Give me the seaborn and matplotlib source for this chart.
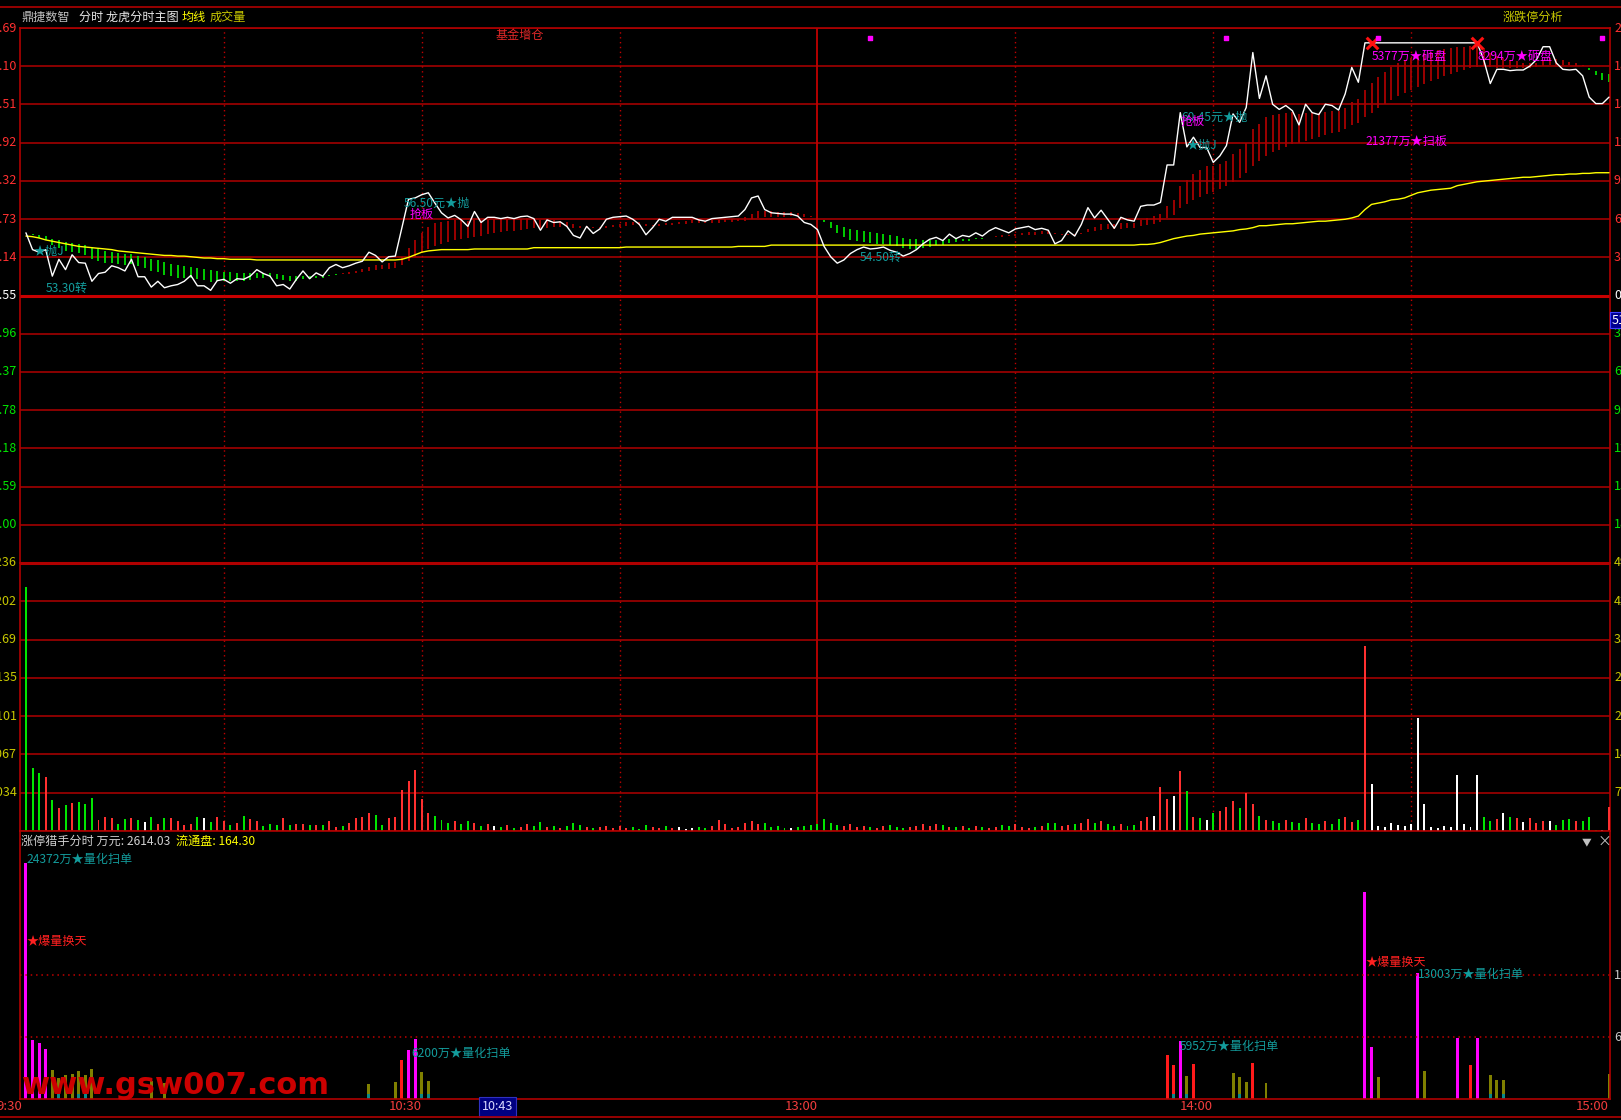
import matplotlib
matplotlib.use('Agg')
import matplotlib.pyplot as plt
import matplotlib.transforms as mtransforms
from matplotlib.lines import Line2D
import seaborn as sns
import pandas as pd
import numpy as np

sns.set_style('dark', {'axes.facecolor': 'black', 'figure.facecolor': 'black'})
plt.rcParams['font.family'] = ['Noto Sans CJK SC', 'DejaVu Sans']

# ---- data ----
pre_close = 19.55
price_step = 0.5914          # price per grid row
vol_top = 49236
flow_top = 27676
flow_marks = [12800, 6400]

price = [
    20.52, 20.26, 20.22, 20.26, 19.85, 20.11, 19.95, 20.18, 20.06, 20.05,
    19.77, 19.89, 19.91, 20.01, 19.98, 19.93, 20.11, 19.84, 19.84, 19.68,
    19.77, 19.67, 19.70, 19.72, 19.77, 19.86, 19.70, 19.70, 19.63, 19.78,
    19.80, 19.74, 19.81, 19.80, 19.85, 19.95, 19.89, 19.85, 19.70, 19.72,
    19.65, 19.80, 19.93, 19.81, 19.90, 19.85, 19.98, 20.03, 19.98, 20.01,
    20.05, 20.08, 20.22, 20.17, 20.07, 20.15, 20.16, 20.60, 21.04, 21.06,
    21.11, 21.14, 20.98, 20.83, 20.75, 20.79, 20.72, 20.62, 20.85, 20.68,
    20.76, 20.76, 20.74, 20.76, 20.74, 20.77, 20.78, 20.74, 20.56, 20.72,
    20.68, 20.69, 20.62, 20.48, 20.44, 20.62, 20.51, 20.58, 20.73, 20.76,
    20.77, 20.78, 20.73, 20.65, 20.49, 20.60, 20.73, 20.70, 20.76, 20.76,
    20.76, 20.76, 20.72, 20.70, 20.74, 20.75, 20.76, 20.77, 20.78, 20.88,
    21.06, 21.09, 20.88, 20.83, 20.82, 20.81, 20.81, 20.78, 20.68, 20.65,
    20.57, 20.31, 20.15, 20.05, 20.10, 20.20, 20.26, 20.30, 20.27, 20.28,
    20.30, 20.25, 20.22, 20.16, 20.20, 20.26, 20.35, 20.42, 20.45, 20.40,
    20.50, 20.43, 20.48, 20.46, 20.52, 20.47, 20.55, 20.60, 20.56, 20.52,
    20.58, 20.60, 20.62, 20.57, 20.59, 20.56, 20.35, 20.40, 20.55, 20.47,
    20.65, 20.91, 20.75, 20.87, 20.73, 20.59, 20.76, 20.72, 20.70, 20.93,
    20.95, 20.95, 20.99, 21.57, 21.57, 22.38, 21.85, 22.00, 21.84, 21.84,
    21.61, 21.71, 21.87, 22.36, 22.23, 22.46, 23.31, 22.60, 22.95, 22.51,
    22.43, 22.49, 22.41, 22.19, 22.51, 22.38, 22.35, 22.51, 22.49, 22.42,
    22.67, 23.08, 22.85, 23.46, 23.46, 23.46, 23.46, 23.46, 23.46, 23.46,
    23.46, 23.46, 23.46, 23.46, 23.46, 23.46, 23.46, 23.46, 23.46, 23.46,
    23.46, 23.20, 22.83, 23.05, 23.05, 23.03, 23.04, 23.04, 23.10, 23.20,
    23.40, 23.40, 23.15, 23.05, 23.04, 23.05, 22.95, 22.62, 22.52, 22.52, 22.62,
]

avg_price = [
    20.47, 20.46, 20.44, 20.41, 20.39, 20.37, 20.35, 20.33, 20.31, 20.30,
    20.29, 20.28, 20.27, 20.26, 20.24, 20.23, 20.22, 20.21, 20.20, 20.19,
    20.18, 20.17, 20.17, 20.16, 20.16, 20.15, 20.14, 20.13, 20.13, 20.12,
    20.12, 20.11, 20.11, 20.11, 20.11, 20.10, 20.10, 20.10, 20.10, 20.10,
    20.10, 20.10, 20.10, 20.10, 20.10, 20.10, 20.10, 20.10, 20.10, 20.10,
    20.10, 20.10, 20.10, 20.10, 20.10, 20.10, 20.10, 20.11, 20.14, 20.18,
    20.22, 20.24, 20.25, 20.26, 20.26, 20.26, 20.26, 20.26, 20.27, 20.27,
    20.27, 20.27, 20.27, 20.27, 20.27, 20.27, 20.27, 20.29, 20.29, 20.29,
    20.29, 20.29, 20.29, 20.29, 20.29, 20.29, 20.29, 20.29, 20.29, 20.29,
    20.29, 20.30, 20.30, 20.30, 20.30, 20.30, 20.30, 20.30, 20.30, 20.30,
    20.30, 20.30, 20.30, 20.30, 20.30, 20.30, 20.30, 20.30, 20.31, 20.31,
    20.31, 20.31, 20.31, 20.33, 20.33, 20.33, 20.33, 20.33, 20.33, 20.33,
    20.33, 20.33, 20.33, 20.33, 20.33, 20.33, 20.33, 20.33, 20.33, 20.33,
    20.33, 20.33, 20.33, 20.33, 20.33, 20.33, 20.33, 20.33, 20.33, 20.33,
    20.33, 20.33, 20.33, 20.33, 20.33, 20.33, 20.33, 20.33, 20.33, 20.33,
    20.33, 20.33, 20.33, 20.33, 20.33, 20.33, 20.33, 20.33, 20.33, 20.33,
    20.33, 20.33, 20.33, 20.33, 20.33, 20.33, 20.33, 20.33, 20.33, 20.34,
    20.34, 20.35, 20.37, 20.40, 20.43, 20.45, 20.47, 20.48, 20.50, 20.51,
    20.52, 20.53, 20.54, 20.55, 20.57, 20.58, 20.60, 20.63, 20.63, 20.64,
    20.65, 20.66, 20.66, 20.67, 20.68, 20.69, 20.70, 20.70, 20.71, 20.72,
    20.73, 20.75, 20.78, 20.88, 20.96, 20.98, 21.00, 21.03, 21.04, 21.06,
    21.10, 21.14, 21.16, 21.18, 21.19, 21.20, 21.21, 21.25, 21.27, 21.29,
    21.31, 21.32, 21.33, 21.34, 21.35, 21.36, 21.37, 21.38, 21.38, 21.39,
    21.40, 21.41, 21.42, 21.42, 21.43, 21.43, 21.44, 21.44, 21.45, 21.45, 21.45,
]

volume = [
    44800, 11500, 10700, 9900, 5700, 4200, 4800, 5100, 5400, 5000,
    6100, 2000, 2600, 2300, 1300, 2200, 2400, 2100, 1700, 2500,
    1300, 2300, 2400, 1800, 1100, 1300, 2600, 2300, 1600, 2500,
    1800, 1100, 1400, 2700, 2200, 1800, 900, 1300, 1100, 2400,
    1100, 1200, 1300, 1100, 1100, 1100, 1800, 800, 900, 1400,
    2300, 2600, 3300, 2900, 1100, 2300, 2600, 7600, 9100, 11200,
    5800, 3300, 2700, 2100, 1500, 1800, 1200, 1900, 1400, 1000,
    1300, 900, 700, 1100, 600, 800, 1200, 900, 1600, 700,
    1000, 600, 900, 1400, 1100, 800, 500, 700, 1000, 600,
    900, 500, 700, 400, 1100, 800, 600, 900, 500, 700,
    400, 600, 800, 500, 900, 2100, 1300, 600, 800, 1500,
    1900, 1200, 1400, 700, 900, 600, 500, 700, 900, 1100,
    1300, 2200, 1500, 1100, 900, 1300, 800, 1000, 700, 600,
    900, 1100, 700, 500, 800, 1000, 1200, 900, 1300, 1100,
    800, 700, 1000, 600, 900, 700, 500, 800, 1100, 900,
    1200, 700, 600, 800, 1000, 1400, 1500, 900, 1100, 1300,
    1500, 2200, 1400, 1900, 1300, 1000, 1200, 900, 1100, 1800,
    2500, 2800, 8000, 5800, 6500, 11000, 7400, 2600, 2300, 2100,
    3300, 3700, 4500, 5600, 4300, 7000, 5000, 2700, 2000, 1800,
    1500, 2100, 1700, 1400, 2300, 1500, 1200, 1900, 1300, 2200,
    2600, 1700, 2000, 34000, 8700, 1000, 700, 1500, 1100, 900,
    1200, 20700, 5000, 800, 600, 1000, 700, 10300, 1300, 800,
    10300, 2500, 1900, 2200, 3300, 2600, 2400, 1700, 2400, 1500,
    1800, 1800, 1100, 2000, 2200, 1800, 1800, 2600, 200, 100, 4500,
]

# lower indicator (万元)
flow_idx = [0, 1, 2, 3, 4, 5, 6, 7, 8, 9, 10, 19, 21, 52, 56, 57, 58, 59, 60, 61,
            173, 174, 175, 176, 177, 183, 184, 185, 186, 188,
            203, 204, 205, 211, 212, 217, 219, 220, 222, 223, 224, 240]
flow_val = [24372, 6070, 5790, 5200, 2970, 2140, 2450, 2620, 2860, 2520, 3140, 1900, 1650,
            1590, 1720, 4000, 5100, 6200, 2760, 1830,
            4520, 3480, 5952, 2350, 3590, 2660, 2240, 1720, 3690, 1620,
            21377, 5377, 2240, 13003, 2860, 6300, 3480, 6300, 2450, 1930, 1930, 2550]
flow_kind = ['big', 'big', 'big', 'big', 'mid', 'mid', 'mid', 'mid', 'mid', 'mid', 'mid', 'mid', 'mid',
             'mid', 'mid', 'up', 'big', 'big', 'mid', 'mid',
             'up', 'up', 'big', 'mid', 'up', 'mid', 'mid', 'mid', 'up', 'mid',
             'big', 'big', 'mid', 'big', 'mid', 'big', 'up', 'big', 'mid', 'mid', 'mid', 'mid']
teal_idx = [5, 8, 9, 52, 60, 61, 174, 176, 184, 222, 224]
teal_val = 520

signal_idx = [128, 182, 205, 239]
cross_idx = [204, 220]

time_labels = ['9:30', '10:30', '13:00', '14:00', '15:00']
time_idx = [0, 60, 120, 180, 240]

# ---- colours ----
GRID = '#b00000'
TEAL = '#139c9c'
MAG = '#ff00ff'
RED = '#ff3030'
GREEN = '#00e600'
YEL = '#ffff00'
OLIVE_TXT = '#c8c800'
FS = 8.7

W, H = 1621, 1120
fig = plt.figure(figsize=(W / 100, H / 100), dpi=100, facecolor='black')


def px_axes(x0, y0, x1, y1):
    return fig.add_axes([x0 / W, 1 - y1 / H, (x1 - x0) / W, (y1 - y0) / H])


def ftext(xp, yp, s, color, size=FS, **kw):
    fig.text(xp / W, 1 - yp / H, s, color=color, fontsize=size, va='center', **kw)


ax_p = px_axes(20, 28, 1610, 563)
ax_v = px_axes(20, 563, 1610, 831)
ax_f = px_axes(20, 831, 1610, 1099)

x = np.arange(len(price))
for ax in (ax_p, ax_v, ax_f):
    ax.set_facecolor('black')
    ax.set_xlim(-0.9, 240.15)
    ax.set_xticks([])
    ax.set_yticks([])
    ax.grid(False)
    for sp in ax.spines.values():
        sp.set_color(GRID)
        sp.set_linewidth(1.2)

# ---- price panel ----
ax_p.set_ylim(pre_close - 7 * price_step, pre_close + 7 * price_step)
trans_l = mtransforms.blended_transform_factory(fig.transFigure, ax_p.transData)
for k in range(-7, 8):
    lvl = pre_close + k * price_step
    ax_p.axhline(lvl, color=GRID if k else '#c80000', lw=2.2 if k in (0, -7) else 1.1, zorder=1)
    if k == -7:
        continue
    col = RED if k > 0 else ('white' if k == 0 else GREEN)
    ax_p.text(17 / W, lvl, f'{lvl:.2f}', transform=trans_l, ha='right', va='center',
              color=col, fontsize=9, clip_on=False)
    pct = abs(k * price_step / pre_close * 100)
    ax_p.text(1614 / W, lvl, f'{pct:.2f}%', transform=trans_l, ha='left', va='center',
              color=col, fontsize=9, clip_on=False)

for ax in (ax_p, ax_v):
    for m in (30, 60, 90, 150, 180, 210):
        ax.axvline(m, color='#c00000', lw=1.0, ls=(0, (1, 2.5)), zorder=1)
    ax.axvline(120, color='#c00000', lw=1.3, zorder=1)

# trend band drawn by the indicator: fast vs slow smoothing of the price
band = pd.DataFrame({'fast': pd.Series(price).ewm(span=12, adjust=False).mean(),
                     'slow': pd.Series(price).ewm(span=30, adjust=False).mean()})
band_col = np.where(band['fast'] >= band['slow'], '#a80000', '#00dd00')
ax_p.vlines(x, band['slow'], band['fast'], colors=band_col, lw=1.3, zorder=2)

sns.lineplot(x=x, y=avg_price, ax=ax_p, color=YEL, lw=1.0, zorder=3)
sns.lineplot(x=x, y=price, ax=ax_p, color='white', lw=1.0, zorder=4)
ax_p.set_xlabel('')
ax_p.set_ylabel('')

ax_p.scatter([x[i] for i in cross_idx], [price[i] for i in cross_idx], marker='x',
             color='#ff1010', s=70, linewidths=2.2, zorder=6)
ax_p.scatter(signal_idx, [pre_close + 6.75 * price_step] * len(signal_idx), marker='s',
             color=MAG, s=9, zorder=6)

# ---- volume panel ----
ax_v.set_ylim(0, vol_top)
trans_v = mtransforms.blended_transform_factory(fig.transFigure, ax_v.transData)
for j in range(1, 8):
    lvl = vol_top * j / 7
    ax_v.axhline(lvl, color=GRID, lw=2.2 if j == 7 else 1.1, zorder=1)
    ax_v.text(17 / W, lvl, f'{lvl:.0f}', transform=trans_v, ha='right', va='center',
              color=OLIVE_TXT, fontsize=9, clip_on=False)
    ax_v.text(1614 / W, lvl, f'{lvl:.0f}', transform=trans_v, ha='left', va='center',
              color=OLIVE_TXT, fontsize=9, clip_on=False)

chg = np.diff(price, prepend=price[0])
vol_col = np.where(chg > 0, RED, np.where(chg < 0, GREEN, 'white'))
vol_col[0] = GREEN  # opening bar is drawn green in the terminal
ax_v.bar(x, volume, width=0.3, color=vol_col, linewidth=0, zorder=3)

# ---- lower indicator panel ----
ax_f.set_ylim(0, flow_top)
trans_f = mtransforms.blended_transform_factory(fig.transFigure, ax_f.transData)
for lvl in flow_marks:
    ax_f.axhline(lvl, color='#c00000', lw=1.1, ls=(0, (1, 2.5)))
    ax_f.text(1614 / W, lvl, f'{lvl}', transform=trans_f, ha='left', va='center',
              color='#c8c8c8', fontsize=9, clip_on=False)
kind_col = {'big': MAG, 'up': '#ff1a1a', 'mid': '#808000'}
ax_f.bar(flow_idx, flow_val, width=0.45, color=[kind_col[k] for k in flow_kind], linewidth=0)
ax_f.bar(teal_idx, [teal_val] * len(teal_idx), width=0.45, color='#0a8a8a', linewidth=0)

# ---- texts ----
ftext(21, 17, '鼎捷数智', '#c0c0c0')
ftext(79, 17, '分时 龙虎分时主图', '#e8e8e8')
ftext(182, 17, '均线', YEL)
ftext(210, 17, '成交量', OLIVE_TXT)
ftext(1503, 17, '涨跌停分析', OLIVE_TXT)
ftext(496, 35, '基金增仓', '#e02828')

ftext(34, 251, '★抛J', TEAL)
ftext(46, 288, '53.30转', TEAL)
ftext(404, 203, '56.50元★抛', TEAL)
ftext(410, 214, '抢板', MAG)
ftext(860, 257, '54.50转', TEAL)
ftext(1181, 117, '60.45元★抛', TEAL)
ftext(1181, 121, '抢板', MAG)
ftext(1187, 145, '★抛J', TEAL)
ftext(1372, 56, '5377万★砸盘', MAG)
ftext(1478, 56, '8294万★砸盘', MAG)
ftext(1365, 141, '21377万★扫板', MAG)

ftext(21, 841, '涨停猎手分时 万元: 2614.03', '#d0d0d0')
ftext(176, 841, '流通盘: 164.30', YEL)
ftext(26, 859, '24372万★量化扫单', TEAL)
ftext(27, 941, '★爆量换天', '#ff2020')
ftext(411, 1053, '6200万★量化扫单', TEAL)
ftext(1180, 1046, '5952万★量化扫单', TEAL)
ftext(1366, 962, '★爆量换天', '#ff2020')
ftext(1418, 974, '13003万★量化扫单', TEAL)
ftext(1582, 842, '▼', '#c0c0c0', 7)
ftext(1598, 842, '×', '#c0c0c0', 10)

ftext(1612, 320, '51', 'white', 9,
      bbox=dict(boxstyle='square,pad=0.15', fc='#000090', ec='#4040ff', lw=0.8))

# time axis
trans_t = mtransforms.blended_transform_factory(ax_f.transData, fig.transFigure)
for lab, i in zip(time_labels, time_idx):
    ax_f.text(i - 2.5, 1 - 1107 / H, lab, transform=trans_t, ha='center', va='center',
              color='#f03c3c', fontsize=9.5, clip_on=False)
ax_f.text(71.5, 1 - 1107 / H, '10:43', transform=trans_t, ha='center', va='center',
          color='#d8d8ff', fontsize=9, clip_on=False,
          bbox=dict(boxstyle='square,pad=0.25', fc='#000080', ec='#3030c0', lw=0.8))

fig.add_artist(Line2D([0, 1], [1 - 1117 / H] * 2, color=GRID, lw=1.2))
fig.add_artist(Line2D([0, 1], [1 - 7 / H] * 2, color=GRID, lw=1.2))

# site watermark
ftext(22, 1086, 'www.gsw007.com', '#cc0000', 22, fontweight='bold',
      family=['DejaVu Sans'], zorder=10)

fig.savefig('out.png', dpi=100, facecolor='black')
